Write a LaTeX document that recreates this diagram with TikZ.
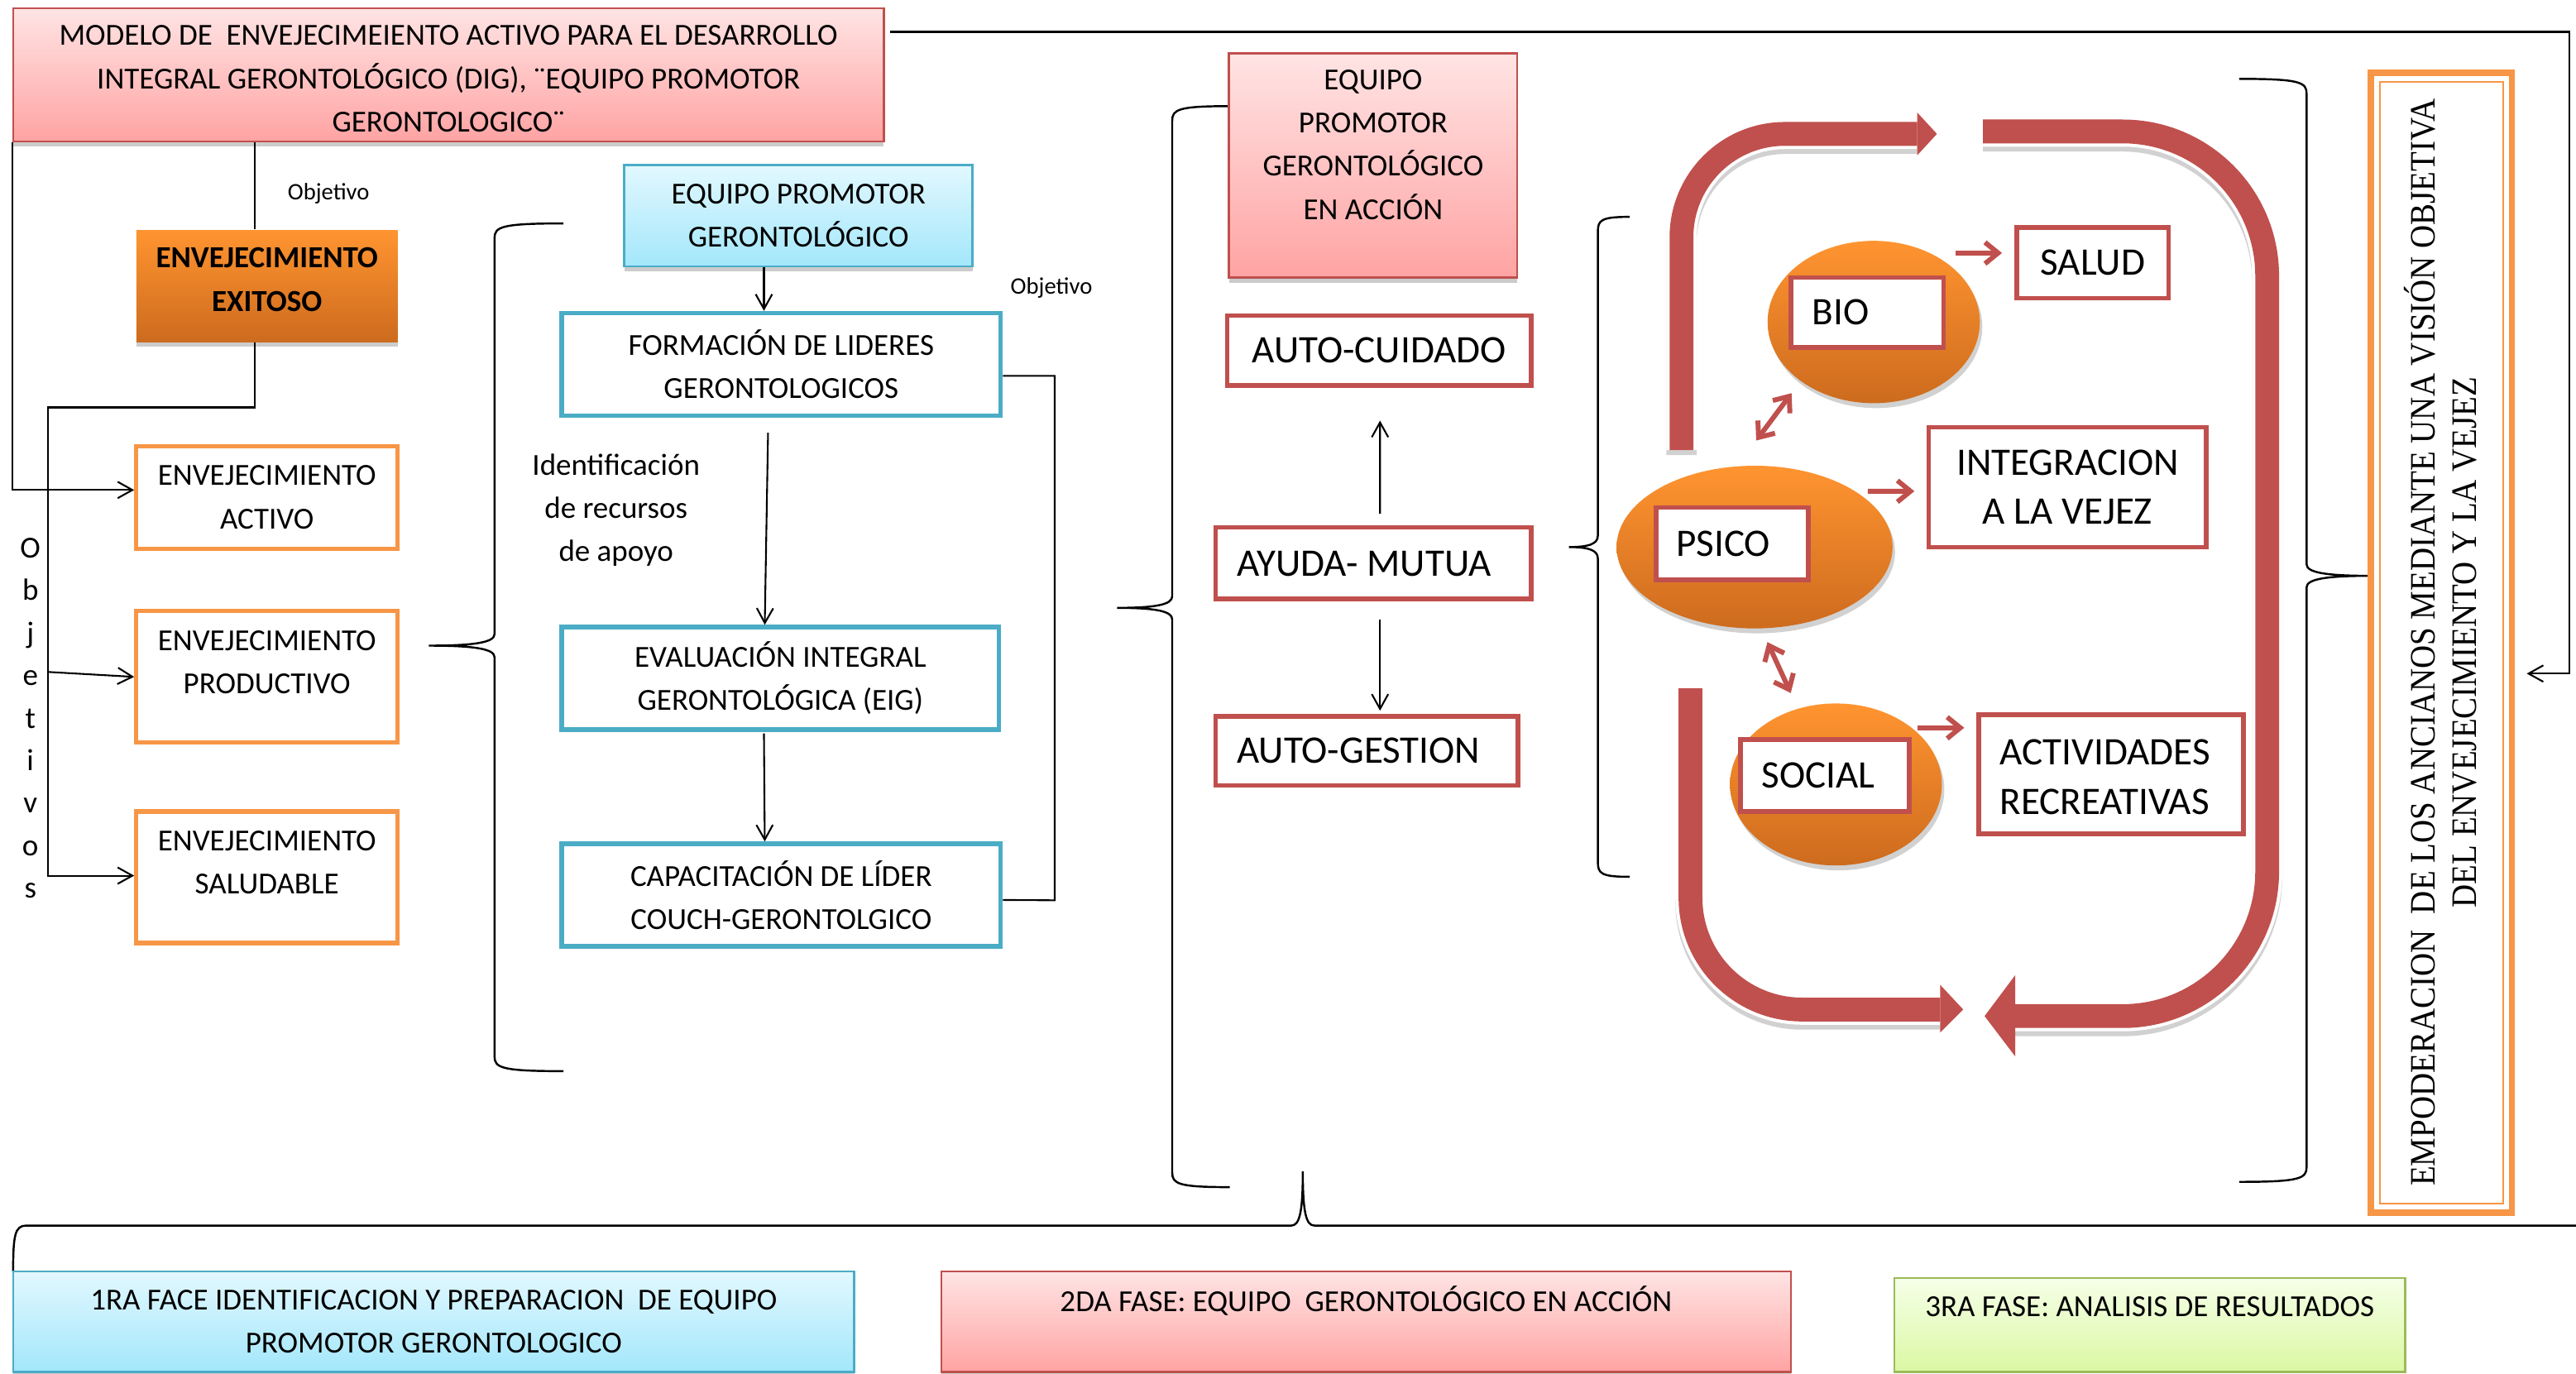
\documentclass[tikz,border=0pt]{standalone}
\usepackage{fontspec}
\setmainfont{Carlito}
\newfontfamily\serifc[FakeStretch=0.9]{Liberation Serif}
\usetikzlibrary{arrows.meta,shapes.geometric,shadows}

\definecolor{rojo}{HTML}{C0504D}
\definecolor{naranja}{HTML}{F79646}
\definecolor{azul}{HTML}{4BACC6}
\definecolor{verde}{HTML}{9BBB59}
\definecolor{rosaA}{HTML}{FFE4E4}
\definecolor{rosaB}{HTML}{FFA3A3}
\definecolor{celesteA}{HTML}{E2F8FF}
\definecolor{celesteB}{HTML}{A3E7FB}
\definecolor{verdeA}{HTML}{F5FFE8}
\definecolor{verdeB}{HTML}{DBF8A3}
\definecolor{narA}{HTML}{FF9430}
\definecolor{narB}{HTML}{CD6B1E}

% llave {xpunta}{ypunta}{xlomo}{xextremo}{yarriba}{yabajo}
\newcommand{\llave}[6]
{
	\draw[line width=0.7pt] (#4,#5) .. controls ({#3+0.1*(#4-#3)},#5) and (#3,{#5+2}) .. (#3,{#5+9})
		-- (#3,{#2-7}) .. controls (#3,{#2-2}) and ({#3+0.3*(#1-#3)},#2) .. (#1,#2)
		.. controls ({#3+0.3*(#1-#3)},#2) and (#3,{#2+2}) .. (#3,{#2+7})
		-- (#3,{#6-9}) .. controls (#3,{#6-2}) and ({#3+0.1*(#4-#3)},#6) .. (#4,#6);
}

\tikzset{
	txt/.style={font=\fontsize{10.6}{15}\selectfont, align=center, inner sep=0pt},
	grande/.style={font=\fontsize{13.5}{17}\selectfont, align=center, inner sep=0pt},
	chico/.style={font=\fontsize{8.2}{10}\selectfont, inner sep=0pt},
	wh/.style 2 args={minimum width={(#1)*0.02cm}, minimum height={(#2)*0.02cm}, inner sep=0pt},
	sombra/.style={general shadow={fill=black!20, shadow yshift=-0.06cm}},
	rosa/.style={draw=rojo, line width=0.7pt, top color=rosaA, bottom color=rosaB, sombra},
	celeste/.style={draw=azul, line width=0.7pt, top color=celesteA, bottom color=celesteB, sombra},
	verdoso/.style={draw=verde, line width=0.7pt, top color=verdeA, bottom color=verdeB},
	exito/.style={top color=narA, bottom color=narB, sombra},
	marco naranja/.style={draw=naranja, line width=1.5pt, fill=white},
	marco azul/.style={draw=azul, line width=1.6pt, fill=white},
	marco rojo/.style={draw=rojo, line width=1.6pt, fill=white},
	bola/.style={ellipse, inner sep=0pt, top color=narA, bottom color=narB,
		general shadow={fill=black!18, shadow xshift=0.03cm, shadow yshift=-0.06cm}},
	linea/.style={line width=0.6pt},
	flecha/.style={linea, -{Straight Barb[length=0.18cm,width=0.2cm]}},
	rflecha/.style={draw=rojo, line width=0.06cm, -{Straight Barb[length=0.16cm,width=0.26cm]}},
	rdoble/.style={rflecha, {Straight Barb[length=0.16cm,width=0.26cm]}-{Straight Barb[length=0.16cm,width=0.26cm]}},
	banda/.style={draw=rojo, line width=0.29cm,
		preaction={draw=black!18, line width=0.37cm, transform canvas={yshift=-0.06cm}},
		preaction={draw=white, line width=0.37cm}},
}

\begin{document}
\begin{tikzpicture}[x=0.02cm,y=-0.02cm]
	\useasboundingbox (0,0) rectangle (1568,836);

	% primera columna
	\node[rosa, wh={530}{81}] (titulo) at (273,45.5) {};
	\node[txt] (titulo-t) at (273,48) {MODELO DE\ \ ENVEJECIMEIENTO ACTIVO PARA EL DESARROLLO\\INTEGRAL GERONTOLÓGICO (DIG), ¨EQUIPO PROMOTOR\\GERONTOLOGICO¨};
	\node[chico] (obj1) at (200,118) {Objetivo};
	\node[exito, wh={159}{68}] (exitoso) at (162.5,174) {};
	\node[txt, font=\fontsize{10.6}{15}\selectfont\bfseries] (exitoso-t) at (162.5,170.2) {ENVEJECIMIENTO\\EXITOSO};
	\node[marco naranja, wh={159}{62.5}, txt] (activo) at (162.5,302.75) {ENVEJECIMIENTO\\ACTIVO};
	\node[marco naranja, wh={159}{80}] (productivo) at (162.5,412) {};
	\node[txt] (productivo-t) at (162.5,403) {ENVEJECIMIENTO\\PRODUCTIVO};
	\node[marco naranja, wh={159}{80}] (saludable) at (162.5,534) {};
	\node[txt] (saludable-t) at (162.5,525) {ENVEJECIMIENTO\\SALUDABLE};
	\foreach \l [count=\i from 0] in {O,b,j,e,t,i,v,o,s}
		\node[txt, anchor=base] (ob\i) at (18.5,{339.5+25.9*\i}) {\l};

	\draw[flecha] ([shift={(3,15)}]titulo.north east) -| (1564,410) -- (1538,410) coordinate (llegada);
	\draw[flecha] (titulo.south west) |- ([shift={(0,-4.5)}]activo.west);
	\coordinate (e-arriba) at ([xshift=-0.15cm]exitoso.north);
	\draw[linea] (e-arriba) -- (e-arriba |- titulo.south);
	\draw[flecha] ([xshift=-0.15cm]exitoso.south) |- (29,248) |- ([shift={(0,-1)}]saludable.west);
	\draw[flecha] (29,409) -- (productivo.west);

	% equipo promotor
	\llave{261}{393}{301}{343}{136}{652}
	\node[celeste, wh={212}{61.5}, txt] (equipo) at (486,131.25) {EQUIPO PROMOTOR\\GERONTOLÓGICO};
	\node[marco azul, wh={267}{62.4}, txt] (formacion) at (475.5,221.8) {FORMACIÓN DE LIDERES\\GERONTOLOGICOS};
	\node[marco azul, wh={266}{62.3}, txt] (evaluacion) at (475,412.85) {EVALUACIÓN INTEGRAL\\GERONTOLÓGICA (EIG)};
	\node[marco azul, wh={267}{62.4}, txt] (capacitacion) at (475.5,544.8) {CAPACITACIÓN DE LÍDER\\COUCH-GERONTOLGICO};
	\node[txt] (recursos) at (375,310.5) {Identificación\\de recursos\\de apoyo};
	\node[chico] (obj2) at (640,175) {Objetivo};

	\coordinate (c1) at ([xshift=-0.42cm]equipo.south);
	\draw[flecha] (c1) -- (c1 |- formacion.north);
	\draw[flecha] ([shift={(-8,9)}]formacion.south) -- ([shift={(-9.5,0)}]evaluacion.north);
	\draw[flecha] ([shift={(-10,1)}]evaluacion.south) -- ([shift={(-10,0)}]capacitacion.north);
	\draw[linea] ([shift={(0,7)}]formacion.east) -| (642,548) -- ([shift={(0,3)}]capacitacion.east);

	% en accion
	\llave{680}{370}{713.5}{748.5}{64.6}{722.6}
	\node[rosa, wh={175.6}{136.5}] (accion) at (835.8,100.75) {};
	\node[txt] (accion-t) at (835.8,88) {EQUIPO\\PROMOTOR\\GERONTOLÓGICO\\EN ACCIÓN};
	\node[marco rojo, wh={185}{42.6}, grande] (autocuidado) at (839.5,213.3) {AUTO-CUIDADO};
	\node[marco rojo, wh={192}{43.6}] (ayuda) at (836,342.8) {};
	\node[grande, anchor=west] (ayuda-t) at (752.6,343) {AYUDA- MUTUA};
	\node[marco rojo, wh={184}{42}] (autogestion) at (832,457) {};
	\node[grande, anchor=west] (autogestion-t) at (752.6,457) {AUTO-GESTION};
	\draw[flecha] ([shift={(4,-7)}]ayuda.north) -- ([shift={(0.5,20)}]autocuidado.south);
	\draw[flecha] ([shift={(4,11)}]ayuda.south) -- ([shift={(8,-2)}]autogestion.north);

	% ciclo bio-psico-social
	\llave{955}{333}{972.6}{992}{132}{533.7}
	\draw[banda, rounded corners=1.26cm] (1023.5,274) -- (1023.5,81.5) -- (1167,81.5);
	\fill[rojo] (1167,68.5) -- (1179,81.5) -- (1167,94.5) -- cycle;
	\draw[banda, rounded corners=1.76cm] (1207,80) -- (1380,80) -- (1380,618.5) -- (1226.6,618.5);
	\fill[rojo] (1226.6,593.6) -- (1208,618.5) -- (1226.6,643) -- cycle;
	\draw[banda, rounded corners=1.36cm] (1029,419) -- (1029,614.5) -- (1181,614.5);
	\fill[rojo] (1181,599.5) -- (1195,614.5) -- (1181,628.5) -- cycle;

	\node[bola, wh={129.2}{98.8}] (bio) at (1140.5,196) {};
	\node[marco rojo, wh={93}{42.5}] (bio-c) at (1136.5,190.25) {};
	\node[grande, anchor=west] (bio-t) at (1102.7,190.25) {BIO};
	\node[bola, wh={168}{99}] (psico) at (1068,333) {};
	\node[marco rojo, wh={92.7}{44}] (psico-c) at (1054.35,331) {};
	\node[grande, anchor=west] (psico-t) at (1020,331) {PSICO};
	\node[bola, wh={129}{98.6}] (social) at (1117.5,477.5) {};
	\node[marco rojo, wh={102.5}{44}] (social-c) at (1110.75,472) {};
	\node[grande, anchor=west] (social-t) at (1072,472) {SOCIAL};

	\node[marco rojo, wh={92.4}{43}, grande] (salud) at (1273.8,160) {SALUD};
	\node[marco rojo, wh={169}{73}, grande] (integracion) at (1258.5,296.5) {INTEGRACION\\A LA VEJEZ};
	\node[marco rojo, wh={161}{72.6}] (actividades) at (1285,471.3) {};
	\node[grande, anchor=west, align=left] (actividades-t) at (1217,473) {ACTIVIDADES\\RECREATIVAS};

	\draw[rflecha] ([shift={(-15,-42)}]bio.east) -- ([shift={(-7.6,-6)}]salud.west);
	\draw[rdoble] ([shift={(1,-15)}]psico.north) -- ([shift={(-50,-6.4)}]bio.south);
	\draw[rflecha] ([shift={(-15.4,-34)}]psico.east) -- ([shift={(-7.3,2.5)}]integracion.west);
	\draw[rdoble] ([shift={(7.8,8)}]psico.south) -- ([shift={(-27.5,-6)}]social.north);
	\draw[rflecha] ([shift={(-15,-34.5)}]social.east) -- ([shift={(-7.5,-28.3)}]actividades.west);

	% resultado
	\llave{1443}{350.5}{1404}{1363}{48}{719.4}
	\node[draw=naranja, line width=2.2pt, fill=white, wh={86}{693.7}] (empoderacion) at (1486,391.15) {};
	\node[draw=naranja, line width=0.6pt, wh={75}{682.7}] (empoderacion-in) at (1486,391.15) {};
	\node[rotate=90, align=center, inner sep=0pt, font=\serifc\fontsize{12.4}{14.5}\selectfont] (empoderacion-t) at (1485.5,391) {EMPODERACION\ \ DE LOS ANCIANOS MEDIANTE UNA VISIÓN OBJETIVA\\DEL ENVEJECIMIENTO Y LA VEJEZ};

	% fases
	\draw[line width=0.7pt] (8,774) .. controls (8,752) and (9,746) .. (16,746) -- (786,746)
		.. controls (791,746) and (793,738) .. (793,713) .. controls (793,738) and (795,746) .. (800,746) -- (1568,746);
	\node[celeste, wh={512}{61}, txt] (fase1) at (264,804.5) {1RA FACE IDENTIFICACION Y PREPARACION\ \ DE EQUIPO\\PROMOTOR GERONTOLOGICO};
	\node[rosa, wh={517}{61}] (fase2) at (831.5,804.5) {};
	\node[txt] (fase2-t) at (831.5,792) {2DA FASE: EQUIPO\ \ GERONTOLÓGICO EN ACCIÓN};
	\node[verdoso, wh={311}{57}] (fase3) at (1308.5,806.5) {};
	\node[txt] (fase3-t) at (1308.5,795.6) {3RA FASE: ANALISIS DE RESULTADOS};
\end{tikzpicture}
\end{document}
